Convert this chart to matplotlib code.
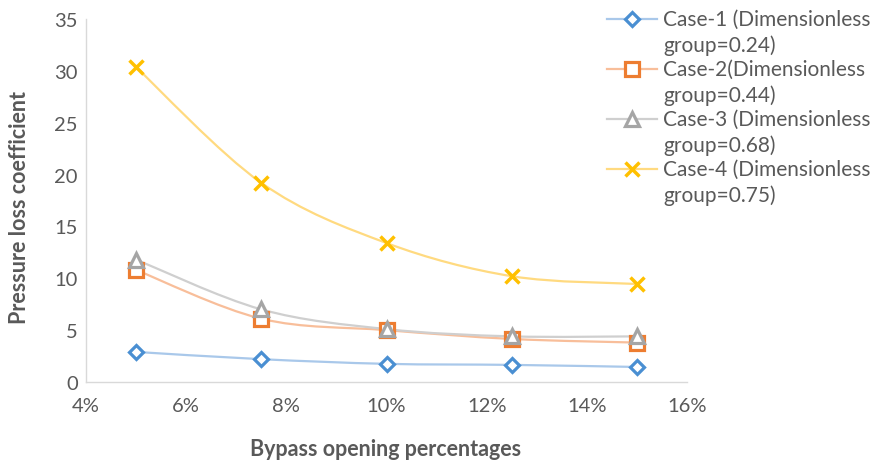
import numpy as np
import matplotlib
matplotlib.use("Agg")
import matplotlib.pyplot as plt
from matplotlib.path import Path
from matplotlib.patches import PathPatch
from matplotlib.lines import Line2D
from matplotlib.ticker import FuncFormatter

plt.rcParams['font.family'] = ['Lato', 'DejaVu Sans']

bypass = [0.05, 0.075, 0.10, 0.125, 0.15]
case1 = [2.9, 2.2, 1.75, 1.65, 1.45]
case2 = [10.8, 6.1, 5.0, 4.15, 3.8]
case3 = [11.8, 7.0, 5.1, 4.4, 4.4]
case4 = [30.35, 19.2, 13.4, 10.2, 9.45]
labels = [("Case-1 (Dimensionless", "group=0.24)"),
          ("Case-2(Dimensionless", "group=0.44)"),
          ("Case-3 (Dimensionless", "group=0.68)"),
          ("Case-4 (Dimensionless", "group=0.75)")]

series = [case1, case2, case3, case4]
marker_cols = ["#4A8FD2", "#ED7D31", "#A5A5A5", "#FFC000"]
line_cols = ["#A9C8EA", "#F8BE9A", "#CFCFCF", "#FFDA80"]
markers = ["D", "s", "^", "x"]
msizes = [7.5, 9.5, 9.5, 10.5]

TXT = "#595959"
W, H = 875, 464

fig = plt.figure(figsize=(W / 100, H / 100), dpi=100)
ax = fig.add_axes([86 / W, 1 - 383 / H, (687 - 86) / W, (383 - 20) / H])


def smooth_path(xs, ys):
    # Catmull-Rom style cubic Bezier through the points
    pts = np.column_stack([xs, ys])
    n = len(pts)
    verts = [pts[0]]
    codes = [Path.MOVETO]
    for i in range(n - 1):
        p0 = pts[i - 1] if i > 0 else pts[i]
        p1 = pts[i]
        p2 = pts[i + 1]
        p3 = pts[i + 2] if i + 2 < n else pts[i + 1]
        c1 = p1 + (p2 - p0) / 6.0
        c2 = p2 - (p3 - p1) / 6.0
        verts += [c1, c2, p2]
        codes += [Path.CURVE4] * 3
    return Path(verts, codes)


def marker_style(mk, mc, ms):
    if mk == "x":
        return dict(marker=mk, ms=ms, mec=mc, mew=2.5)
    return dict(marker=mk, ms=ms, mec=mc, mfc="white", mew=2.3)


for ys, mc, lc, mk, ms in zip(series, marker_cols, line_cols, markers, msizes):
    ax.add_patch(PathPatch(smooth_path(bypass, ys), fill=False, edgecolor=lc,
                           lw=1.6, zorder=2))
    ax.plot(bypass, ys, ls="none", zorder=3, **marker_style(mk, mc, ms))

ax.set_xlim(0.04, 0.16)
ax.set_ylim(0, 35)
ax.set_xticks(np.arange(0.04, 0.161, 0.02))
ax.set_yticks(np.arange(0, 36, 5))
ax.xaxis.set_major_formatter(FuncFormatter(lambda v, p: f"{v * 100:.0f}%"))

for s in ["top", "right"]:
    ax.spines[s].set_visible(False)
for s in ["left", "bottom"]:
    ax.spines[s].set_color("#D9D9D9")
    ax.spines[s].set_linewidth(1.0)
ax.tick_params(length=0, labelsize=14.5, colors=TXT)
ax.tick_params(axis="y", pad=6)
ax.tick_params(axis="x", pad=11)

fig.text(20 / W, 1 - 208 / H, "Pressure loss coefficient", rotation=90,
         fontsize=15.5, fontweight="bold", color=TXT, ha="center", va="center")
fig.text(386 / W, 1 - 450 / H, "Bypass opening percentages",
         fontsize=15.5, fontweight="bold", color=TXT, ha="center", va="center")

# legend: handle line + marker, then two-line label
for i, ((l1, l2), mc, lc, mk, ms) in enumerate(zip(labels, marker_cols, line_cols,
                                                    markers, msizes)):
    yc = 20 + 50 * i
    yf = 1 - yc / H
    fig.add_artist(Line2D([607 / W, 657 / W], [yf, yf], color=lc, lw=1.6,
                          transform=fig.transFigure))
    fig.add_artist(Line2D([632 / W], [yf], ls="none", transform=fig.transFigure,
                          **marker_style(mk, mc, ms)))
    fig.text(663 / W, yf, l1, fontsize=15, color=TXT, ha="left", va="center")
    fig.text(663 / W, 1 - (yc + 25.5) / H, l2, fontsize=15, color=TXT,
             ha="left", va="center")

fig.savefig("out.png", dpi=100, facecolor="white")
